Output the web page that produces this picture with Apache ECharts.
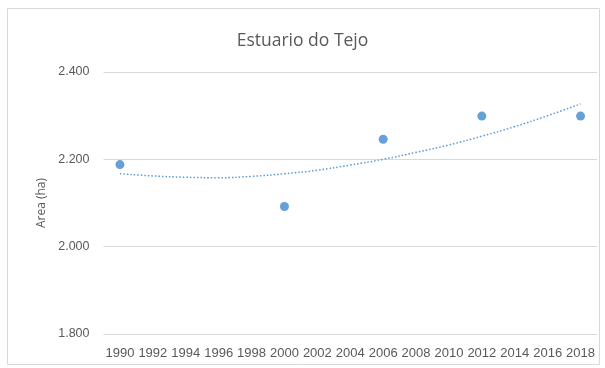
<!DOCTYPE html>
<html>
<head>
<meta charset="utf-8">
<script src="https://cdn.jsdelivr.net/npm/echarts@6/dist/echarts.min.js"></script>
<style>html,body{margin:0;padding:0;background:#fff}#c{width:605px;height:368px}</style>
</head>
<body>
<div id="c"></div>
<script>
const years = [1990, 2000, 2006, 2012, 2018];
const areaValues = [2188, 2092, 2246, 2299, 2299];
const trendYears = [1990, 1992, 1994, 1996, 1998, 2000, 2002, 2004, 2006, 2008, 2010, 2012, 2014, 2016, 2018];
const trendValues = [2167, 2162, 2159, 2158, 2161, 2167, 2175, 2187, 2200, 2216, 2233, 2253, 2275, 2300, 2327];
const xTickLabels = [1990, 1992, 1994, 1996, 1998, 2000, 2002, 2004, 2006, 2008, 2010, 2012, 2014, 2016, 2018];
const yTicks = [1800, 2000, 2200, 2400];

const chart = echarts.init(document.getElementById('c'), null, {renderer: 'canvas'});
chart.setOption({
  animation: false,
  backgroundColor: '#fff',
  graphic: [{
    type: 'rect', shape: {x: 7.5, y: 8.5, width: 592, height: 356},
    style: {fill: 'none', stroke: '#d9d9d9', lineWidth: 1}, silent: true, z: -1
  }],
  title: {
    text: 'Estuario do Tejo', left: 'center', top: 27,
    textStyle: {fontFamily: 'Open Sans', fontSize: 17.5, fontWeight: 'normal', color: '#595959'}
  },
  grid: {left: 103.5, right: 8, top: 72, bottom: 34},
  xAxis: {
    type: 'value', min: 1989, max: 2019,
    axisLine: {show: false}, axisTick: {show: false}, splitLine: {show: false},
    axisLabel: {
      customValues: xTickLabels, margin: 13,
      fontFamily: 'Liberation Sans', fontSize: 13, color: '#595959',
      formatter: v => String(v)
    }
  },
  yAxis: {
    type: 'value', min: 1800, max: 2400, interval: 200,
    name: 'Area (ha)', nameLocation: 'middle', nameGap: 56, nameRotate: 90,
    nameTextStyle: {fontFamily: 'Open Sans', fontSize: 12, color: '#595959'},
    axisLine: {show: false}, axisTick: {show: false},
    splitLine: {lineStyle: {color: '#d9d9d9', width: 1}},
    axisLabel: {
      margin: 14, fontFamily: 'Liberation Sans', fontSize: 12.5, color: '#595959',
      formatter: v => yTicks.includes(v) ? String(v).replace(/\B(?=(\d{3})+(?!\d))/g, '.') : ''
    }
  },
  series: [
    {
      type: 'line', data: trendYears.map((y, i) => [y, trendValues[i]]),
      smooth: true, showSymbol: false, symbol: 'none',
      lineStyle: {color: '#5b9bd5', width: 1.5, type: [1.5, 2]}, z: 2
    },
    {
      type: 'scatter', data: years.map((y, i) => [y, areaValues[i]]),
      symbolSize: 9, itemStyle: {color: '#3f88cf'}, z: 3
    }
  ]
});
</script>
</body>
</html>
